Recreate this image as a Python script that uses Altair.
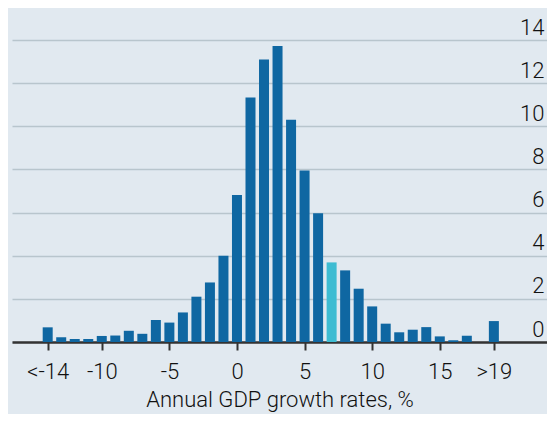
import altair as alt
import pandas as pd

# Data
growth_bins = list(range(-14, 20))
shares = [0.68, 0.22, 0.14, 0.14, 0.28, 0.30, 0.52, 0.38, 1.02, 0.90,
          1.37, 2.10, 2.76, 4.00, 6.82, 11.34, 13.10, 13.72, 10.30, 7.95,
          5.97, 3.69, 3.32, 2.47, 1.65, 0.85, 0.45, 0.57, 0.69, 0.26,
          0.08, 0.29, 0.0, 0.97]
highlight_bins = [7]
x_ticks = [-14, -10, -5, 0, 5, 10, 15, 19]
y_ticks = [0, 2, 4, 6, 8, 10, 12, 14]

df = pd.DataFrame({"bin": growth_bins, "share": shares})

FONT = "Roboto"
BG = "#e1e9f0"
BLUE = "#0f67a2"
CYAN = "#3ebcd2"

bars = alt.Chart(df).mark_bar(size=10).encode(
    x=alt.X(
        "bin:Q",
        scale=alt.Scale(domain=[-16.27, 22.56], nice=False, zero=False),
        axis=alt.Axis(
            values=x_ticks,
            labelExpr="datum.value == -14 ? '<-14' : datum.value == 19 ? '>19' : '' + datum.value",
            grid=False,
            domainColor="#333333",
            domainWidth=2.5,
            tickColor="#333333",
            tickWidth=2,
            tickSize=8,
            labelFont=FONT,
            labelFontSize=22,
            labelFontWeight=300,
            labelColor="#111111",
            labelBaseline="alphabetic",
            labelPadding=28,
            labelFlush=False,
            labelOverlap=False,
            title="Annual GDP growth rates, %",
            titleFont=FONT,
            titleFontSize=22,
            titleFontWeight=300,
            titleColor="#111111",
            titlePadding=7,
        ),
    ),
    y=alt.Y(
        "share:Q",
        scale=alt.Scale(domain=[0, 14], nice=False),
        axis=alt.Axis(
            orient="right",
            values=y_ticks,
            grid=True,
            gridColor="#b8c5cd",
            gridWidth=1.5,
            domain=False,
            ticks=False,
            tickSize=0,
            labelAlign="right",
            labelBaseline="alphabetic",
            labelPadding=-3,
            labelOffset=-6,
            labelFont=FONT,
            labelFontSize=22,
            labelFontWeight=300,
            labelColor="#111111",
            labelFlush=False,
            labelOverlap=False,
            title=None,
        ),
    ),
    color=alt.condition(
        alt.FieldOneOfPredicate(field="bin", oneOf=highlight_bins),
        alt.value(CYAN),
        alt.value(BLUE),
    ),
)

chart = bars.properties(
    width=535,
    height=302,
    background=BG,
    autosize=alt.AutoSizeParams(type="none"),
    padding={"left": 4, "top": 32, "right": 0, "bottom": 72},
).configure_view(stroke=None)

chart.save("out.html", embed_options={"renderer": "svg", "actions": False})
